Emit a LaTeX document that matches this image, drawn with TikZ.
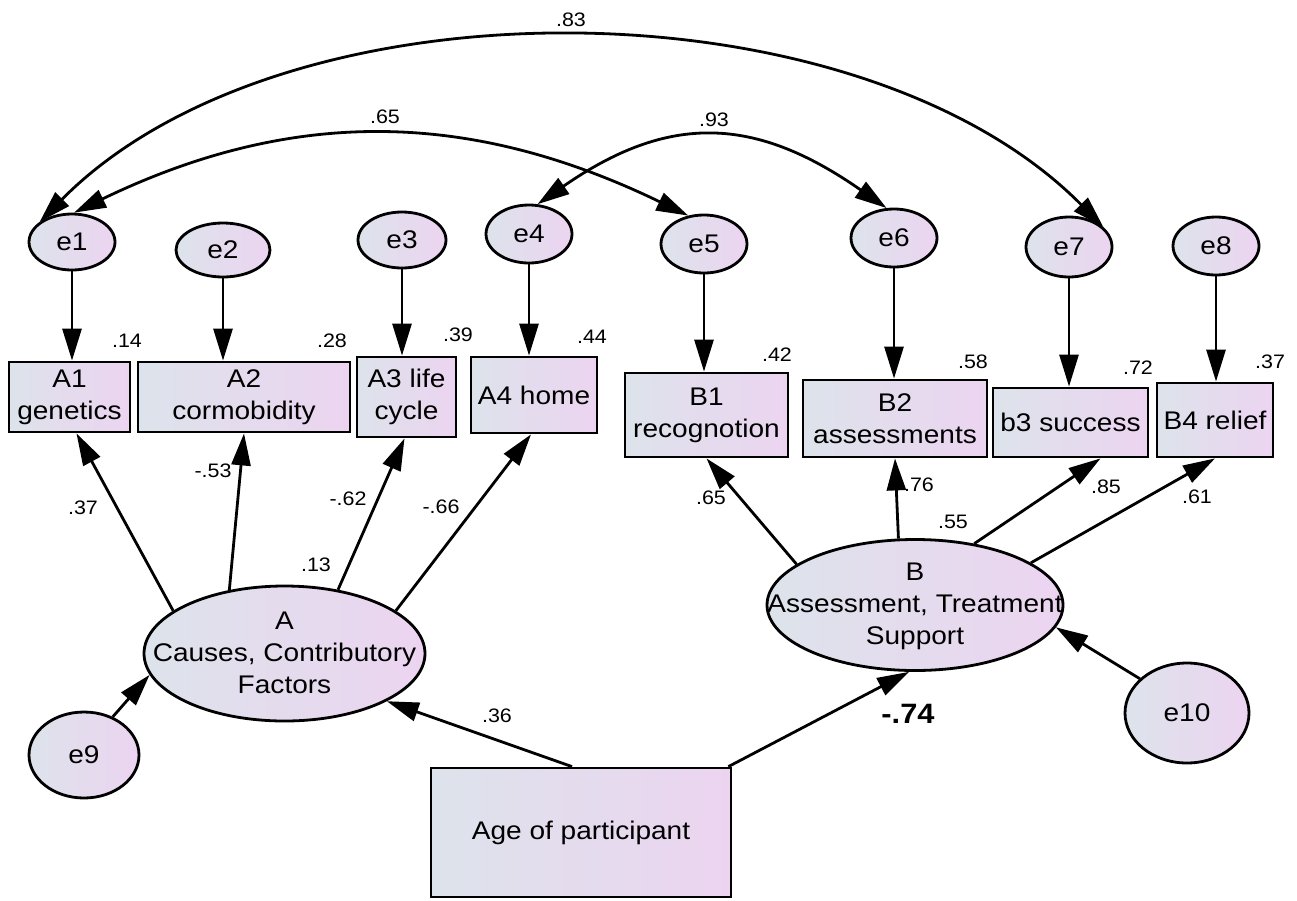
\documentclass[tikz,border=0pt]{standalone}
\usepackage{fontspec}
\setmainfont{Liberation Sans}[FakeStretch=1.1]
\usetikzlibrary{arrows.meta,shapes.geometric}
\definecolor{gL}{RGB}{221,227,235}
\definecolor{gR}{RGB}{236,212,240}
\newcommand\mainfs{\fontsize{25.5}{32}\selectfont}
\newcommand\numfs{\fontsize{19.5}{22}\selectfont}
\newcommand\boldfs{\fontsize{28}{30}\selectfont\bfseries}
\begin{document}
\begin{tikzpicture}[x=1pt,y=-1pt,
  obs/.style={draw, line width=2.8pt, rectangle, left color=gL, right color=gR,
              inner sep=0pt, align=center, font=\mainfs},
  lat/.style={draw, ellipse, line width=2.8pt, left color=gL, right color=gR,
              inner sep=0pt, font=\mainfs},
  ltext/.style={align=center, font=\mainfs, inner sep=0pt},
  num/.style={font=\numfs, inner sep=0pt},
  tipA/.tip={Triangle[length=32pt,width=19pt]},
  path/.style={line width=2.8pt, -tipA},
  cov/.style={line width=2.8pt, tipA-tipA}]
\useasboundingbox (0,0) rectangle (1297,900);
\fill[white] (0,0) rectangle (1297,900);

% error terms of the indicators
\node[lat, minimum width=86pt, minimum height=56pt] (e1) at (72,242) {e1};
\node[lat, minimum width=94pt, minimum height=54pt] (e2) at (223,250) {e2};
\node[lat, minimum width=88pt, minimum height=56pt] (e3) at (402,240) {e3};
\node[lat, minimum width=86pt, minimum height=58pt] (e4) at (529,234) {e4};
\node[lat, minimum width=86pt, minimum height=58pt] (e5) at (704,244) {e5};
\node[lat, minimum width=86pt, minimum height=58pt] (e6) at (894,238) {e6};
\node[lat, minimum width=86pt, minimum height=60pt] (e7) at (1069,247) {e7};
\node[lat, minimum width=86pt, minimum height=58pt] (e8) at (1216,246) {e8};

% indicators
\node[obs, minimum width=121pt, minimum height=70pt] (A1) at (69.5,397) {A1\\genetics};
\node[obs, minimum width=212pt, minimum height=70pt] (A2) at (244,397) {A2\\cormobidity};
\node[obs, minimum width=99pt, minimum height=80pt] (A3) at (406.5,397) {A3 life\\cycle};
\node[obs, minimum width=126pt, minimum height=76pt] (A4) at (534,395) {A4 home};
\node[obs, minimum width=163pt, minimum height=84pt] (B1) at (706.5,415) {B1\\recognotion};
\node[obs, minimum width=184pt, minimum height=77pt] (B2) at (895,418.5) {B2\\assessments};
\node[obs, minimum width=155pt, minimum height=69pt] (b3) at (1070.5,422.5) {b3 success};
\node[obs, minimum width=116pt, minimum height=74pt] (B4) at (1215,420) {B4 relief};

% latent factors, their disturbances and the covariate
\node[lat, minimum width=281pt, minimum height=135pt] (A) at (284.5,653.5) {};
\node[ltext] (Atext) at (284.5,653) {A\\Causes, Contributory\\Factors};
\node[lat, minimum width=296pt, minimum height=131pt] (B) at (915,605) {};
\node[ltext] (Btext) at (915,606) {B\\Assessment, Treatment\\Support};
\node[lat, minimum width=110pt, minimum height=86pt] (e9) at (84,755) {e9};
\node[lat, minimum width=124pt, minimum height=100pt] (e10) at (1187,713) {e10};
\node[obs, minimum width=300pt, minimum height=129pt] (Age) at (581,832.5) {Age of participant};

% error paths
\foreach \e/\o in {e1/A1,e2/A2,e3/A3,e4/A4,e5/B1,e6/B2,e7/b3,e8/B4}
  \draw[path] (\e) -- (\e |- \o.north);

% loadings
\draw[path] (A.159) -- ([xshift=7pt]A1.south);
\draw[path] (A.131) -- (A2.south);
\draw[path] (A.50) -- ([xshift=-2pt]A3.south);
\draw[path] (A.21) -- ([xshift=-3pt]A4.south);
\draw[path] (B.161) -- (B1.south);
\draw[path] (B.104) -- (B2.south);
\draw[path] (B.46) -- ([xshift=30pt]b3.south);
\draw[path] (B.20) -- (B4.south);

% structural paths
\draw[path] ([xshift=-9pt]Age.north) -- (A.335);
\draw[path] ([xshift=-4pt]Age.north east) -- (B.265);
\draw[path] (e9.53) -- (A.189);
\draw[path] (e10.144) -- (B.351);

% error covariances
\draw[cov] (e1.148) .. controls (285,-26) and (858,-21) .. (e7.30);
\draw[cov] (e1.86) .. controls (293,107) and (470,110) .. (e5.119);
\draw[cov] (e4.74) .. controls (669,113) and (755,116) .. (e6.104);

% squared multiple correlations
\node[num] (r1) at (127,341) {.14};
\node[num] (r2) at (332,341) {.28};
\node[num] (r3) at (458,335) {.39};
\node[num] (r4) at (592,337) {.44};
\node[num] (r5) at (777,355) {.42};
\node[num] (r6) at (973,362) {.58};
\node[num] (r7) at (1138,368) {.72};
\node[num] (r8) at (1270,362) {.37};
\node[num] (rA) at (316,565) {.13};
\node[num] (rB) at (953,522) {.55};

% standardized estimates
\node[num] (l1) at (83,508) {.37};
\node[num] (l2) at (213,471) {-.53};
\node[num] (l3) at (348,499) {-.62};
\node[num] (l4) at (441,507) {-.66};
\node[num] (l5) at (711,498) {.65};
\node[num] (l6) at (919,485) {.76};
\node[num] (l7) at (1106,487) {.85};
\node[num] (l8) at (1197,497) {.61};
\node[num] (gA) at (497,716) {.36};
\node[font=\boldfs, inner sep=0pt] (gB) at (908,714) {-.74};
\node[num] (c1) at (571,20) {.83};
\node[num] (c2) at (385,117) {.65};
\node[num] (c3) at (714,120) {.93};
\end{tikzpicture}
\end{document}
